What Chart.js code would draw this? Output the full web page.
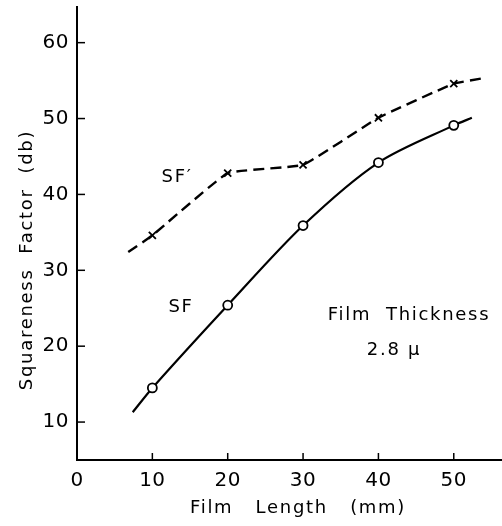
<!DOCTYPE html>
<html>
<head>
<meta charset="utf-8">
<script src="https://cdn.jsdelivr.net/npm/chart.js@4"></script>
<style>
  html, body { margin: 0; padding: 0; background: #fff; }
  canvas { display: block; }
</style>
</head>
<body>
<canvas id="chart" width="502" height="526"></canvas>
<script>
// values (curve ends carry no marker)
const sfX = [7.4, 10, 20, 30, 40, 50, 52.4];
const sfY = [11.3, 14.5, 25.4, 35.9, 44.2, 49.1, 50.1];
const sfMarks = [0, 1, 1, 1, 1, 1, 0];

const sfpX = [6.8, 10, 20, 30, 40, 50, 53.8];
const sfpY = [32.4, 34.6, 42.8, 43.9, 50.1, 54.6, 55.3];
const sfpMarks = [0, 1, 1, 1, 1, 1, 0];

const xTicks = [0, 10, 20, 30, 40, 50];
const yTicks = [10, 20, 30, 40, 50, 60];

const FONT = 'DejaVu Sans';
const INK = '#000';

function toPoints(xs, ys) {
    return xs.map((x, i) => ({ x: x, y: ys[i] }));
}

// inward tick marks + free text labels
const decorations = {
    id: 'decorations',
    beforeDraw(chart) {
        chart.ctx.letterSpacing = '0.5px';
    },
    afterDraw(chart) {
        const ctx = chart.ctx;
        const xs = chart.scales.x, ys = chart.scales.y;
        const area = chart.chartArea;
        ctx.save();
        ctx.strokeStyle = INK;
        ctx.lineWidth = 1.5;
        xTicks.forEach(v => {
            if (v === 0) return;
            const px = xs.getPixelForValue(v);
            ctx.beginPath();
            ctx.moveTo(px, area.bottom);
            ctx.lineTo(px, area.bottom - 7);
            ctx.stroke();
        });
        yTicks.forEach(v => {
            const py = ys.getPixelForValue(v);
            ctx.beginPath();
            ctx.moveTo(area.left, py);
            ctx.lineTo(area.left + 8, py);
            ctx.stroke();
        });

        ctx.fillStyle = INK;
        ctx.letterSpacing = '1.7px';
        ctx.textBaseline = 'middle';
        ctx.textAlign = 'center';
        ctx.font = '18px ' + FONT;
        ctx.fillText('SF\u2032', 177, 177);
        ctx.fillText('SF', 181, 307);
        ctx.fillText('Film  Thickness', 409, 315);
        ctx.fillText('2.8 \u03bc', 394, 350);

        ctx.fillText('Film   Length   (mm)', 298, 508);
        ctx.translate(27, 260);
        ctx.rotate(-Math.PI / 2);
        ctx.fillText('Squareness  Factor  (db)', 0, 0);
        ctx.restore();
    }
};

const data = {
    datasets: [{
        label: 'SF',
        data: toPoints(sfX, sfY),
        borderColor: INK,
        borderWidth: 2.2,
        tension: 0.3,
        pointStyle: 'circle',
        pointRadius: sfMarks.map(m => m ? 4.5 : 0),
        pointBackgroundColor: '#fff',
        pointBorderColor: INK,
        pointBorderWidth: 1.8
    }, {
        label: "SF'",
        data: toPoints(sfpX, sfpY),
        borderColor: INK,
        borderWidth: 2.4,
        borderDash: [11, 6],
        tension: 0.1,
        pointStyle: 'crossRot',
        pointRadius: sfpMarks.map(m => m ? 5 : 0),
        pointBorderColor: INK,
        pointBorderWidth: 1.8
    }]
};

const config = {
    type: 'line',
    data: data,
    options: {
        responsive: false,
        animation: false,
        devicePixelRatio: 1,
        layout: { padding: { top: 7, right: 0, left: 0, bottom: 0 } },
        plugins: {
            legend: { display: false },
            tooltip: { enabled: false }
        },
        scales: {
            x: {
                type: 'linear',
                min: 0,
                max: 56.4,
                afterBuildTicks: s => { s.ticks = xTicks.map(v => ({ value: v })); },
                afterFit: s => { s.height = 66; s.paddingLeft = 0; s.paddingRight = 0; },
                grid: { drawOnChartArea: false, drawTicks: false },
                border: { display: true, color: INK, width: 2 },
                ticks: { color: INK, padding: 9, font: { family: FONT, size: 20 } }
            },
            y: {
                type: 'linear',
                min: 5,
                max: 64.7,
                afterBuildTicks: s => { s.ticks = yTicks.map(v => ({ value: v })); },
                afterFit: s => { s.width = 77; s.paddingTop = 0; s.paddingBottom = 0; },
                grid: { drawOnChartArea: false, drawTicks: false },
                border: { display: true, color: INK, width: 2 },
                ticks: { color: INK, padding: 8, font: { family: FONT, size: 20 } }
            }
        }
    },
    plugins: [decorations]
};

const chart = new Chart(document.getElementById('chart'), config);
</script>
</body>
</html>
